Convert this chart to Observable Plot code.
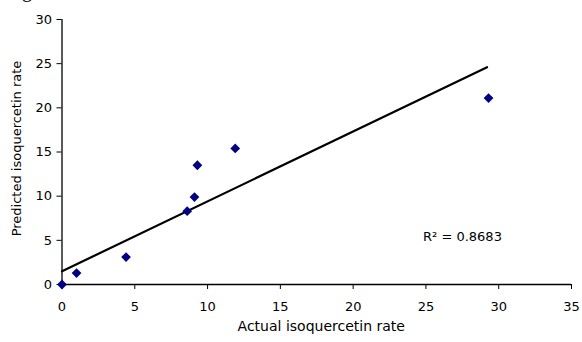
<!DOCTYPE html>
<html>
<head>
<meta charset="utf-8">
<script src="https://cdn.jsdelivr.net/npm/d3@7"></script>
<script src="https://cdn.jsdelivr.net/npm/@observablehq/plot@0.6"></script>
<style>
  html, body { margin: 0; padding: 0; background: #fff; overflow: hidden; }
  #wrap { position: relative; width: 582px; height: 342px; }
  #frag { position: absolute; left: 22px; top: -20px; font-family: "Liberation Serif", serif; font-size: 20px; line-height: 20px; color: #000; }
  svg { display: block; }
</style>
</head>
<body>
<div id="wrap"><div id="frag">g</div></div>
<script>
const actual = [0, 1.0, 4.4, 8.6, 9.1, 9.3, 11.9, 29.3];
const predicted = [0, 1.3, 3.1, 8.3, 9.9, 13.5, 15.4, 21.1];
const trendX = [0, 29.2];
const trendY = [1.5, 24.6];
const xTicks = [0, 5, 10, 15, 20, 25, 30, 35];
const yTicks = [0, 5, 10, 15, 20, 25, 30];
const xTitle = "Actual isoquercetin rate";
const yTitle = "Predicted isoquercetin rate";
const r2Label = "R² = 0.8683";
const r2Pos = {x: 24.8, y: 5.4};

const points = actual.map((a, i) => ({actual: a, predicted: predicted[i]}));
const trend = trendX.map((x, i) => ({x, y: trendY[i]}));

const chart = Plot.plot({
  width: 582,
  height: 342,
  marginLeft: 61.5,
  marginRight: 11,
  marginTop: 19,
  marginBottom: 58,
  style: {fontFamily: "'DejaVu Sans', sans-serif", fontSize: "13px", color: "#000", background: "#fff"},
  x: {domain: [0, 35]},
  y: {domain: [0, 30]},
  marks: [
    Plot.axisX({ticks: xTicks, tickSize: 5, tickPadding: 12, label: null, fontSize: 13}),
    Plot.axisY({ticks: yTicks, tickSize: 5, tickPadding: 5, label: null, fontSize: 13}),
    Plot.ruleX([0], {stroke: "#000", strokeWidth: 1.3}),
    Plot.ruleY([0], {stroke: "#000", strokeWidth: 1.3}),
    Plot.line(trend, {x: "x", y: "y", stroke: "#000", strokeWidth: 2.2}),
    Plot.dot(points, {x: "actual", y: "predicted", symbol: "diamond2", r: 4.4, fill: "#000080", stroke: "none"}),
    Plot.text([r2Label], {x: () => r2Pos.x, y: () => r2Pos.y, text: d => d, textAnchor: "start", fontSize: 13, fill: "#000"}),
    Plot.text([xTitle], {frameAnchor: "bottom", textAnchor: "middle", lineAnchor: "middle", dx: 4.5, dy: 42.5, text: d => d, fontSize: 14, fill: "#000"}),
    Plot.text([yTitle], {frameAnchor: "left", textAnchor: "middle", lineAnchor: "middle", rotate: -90, dx: -45, dy: -3.5, text: d => d, fontSize: 13, fill: "#000"})
  ]
});
document.getElementById("wrap").appendChild(chart);
</script>
</body>
</html>
